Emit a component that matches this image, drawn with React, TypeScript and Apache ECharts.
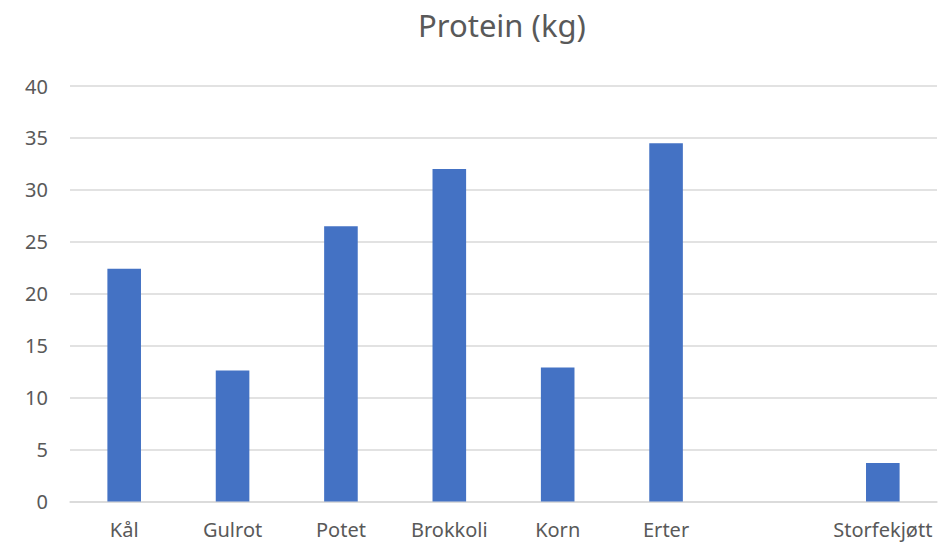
import React, { useEffect, useRef } from "react";
import * as echarts from "echarts";

const categories: string[] = ["Kål", "Gulrot", "Potet", "Brokkoli", "Korn", "Erter", "", "Storfekjøtt"];
const protein: (number | null)[] = [22.4, 12.6, 26.5, 32.0, 12.9, 34.5, null, 3.7];
const yTicks = { min: 0, max: 40, interval: 5 };

const FONT = "Noto Sans";
const TEXT = "#595959";
const GRID = "#D9D9D9";
const BAR = "#4472C4";

export default function App() {
  const ref = useRef<HTMLDivElement>(null);

  useEffect(() => {
    if (!ref.current) return;
    const chart = echarts.init(ref.current, undefined, { renderer: "svg" });
    chart.setOption({
      animation: false,
      backgroundColor: "#ffffff",
      title: {
        text: "Protein (kg)",
        left: 413,
        top: 4,
        textStyle: { fontFamily: FONT, fontSize: 31, fontWeight: "normal", color: TEXT },
      },
      grid: { left: 70, right: 8, top: 86, bottom: 43.5, containLabel: false },
      xAxis: {
        type: "category",
        data: categories,
        axisLine: { show: true, lineStyle: { color: GRID, width: 1.5 } },
        axisTick: { show: false },
        axisLabel: { color: TEXT, fontFamily: FONT, fontSize: 20, margin: 18, interval: 0 },
      },
      yAxis: {
        type: "value",
        min: yTicks.min,
        max: yTicks.max,
        interval: yTicks.interval,
        axisLine: { show: false },
        axisTick: { show: false },
        splitLine: { lineStyle: { color: GRID, width: 1.5 } },
        axisLabel: { color: TEXT, fontFamily: FONT, fontSize: 20, margin: 22 },
      },
      series: [
        {
          type: "bar",
          data: protein,
          barWidth: "31%",
          itemStyle: { color: BAR },
        },
      ],
    });
    return () => chart.dispose();
  }, []);

  return <div ref={ref} style={{ width: 945, height: 545, position: "absolute", left: 0, top: 0 }} />;
}
